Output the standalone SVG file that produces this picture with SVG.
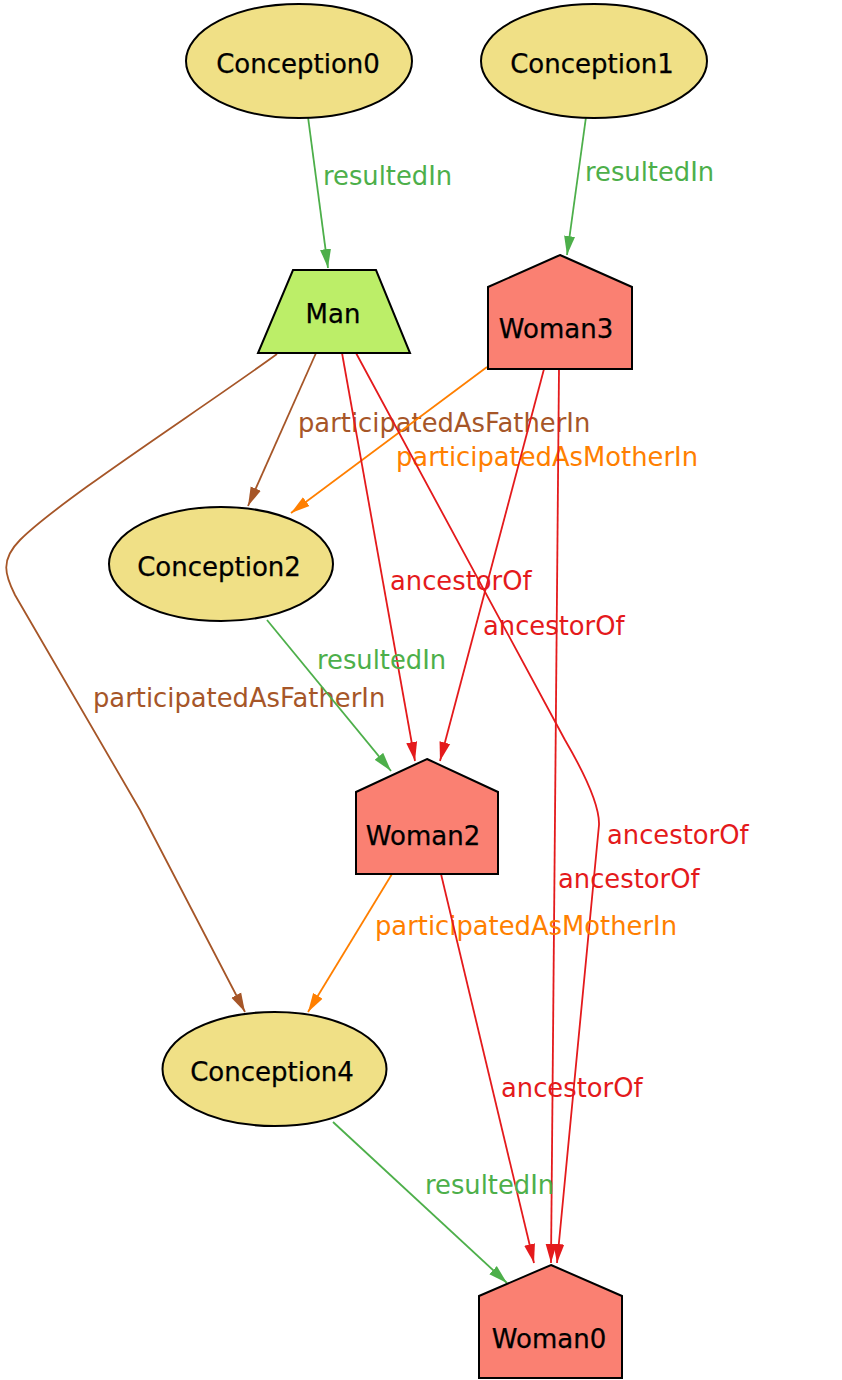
<svg xmlns="http://www.w3.org/2000/svg" width="842" height="1380" viewBox="0 0 842 1380">
<defs>
<style>
.node{stroke:#000;stroke-width:2}
.conc{fill:#F0E086}
.man{fill:#BCEE68}
.woman{fill:#FA8072}
.nt{font-family:"DejaVu Sans",sans-serif;font-size:26px;fill:#000;text-anchor:middle;stroke:#000;stroke-width:0.25}
.lt{font-family:"DejaVu Sans",sans-serif;font-size:25.8px}
.e{fill:none;stroke-width:1.8}
.g{stroke:#4DAF4A}.gt{fill:#4DAF4A}
.r{stroke:#E41A1C}.rt{fill:#E41A1C}
.o{stroke:#FF7F00}.ot{fill:#FF7F00}
.b{stroke:#A65628}.bt{fill:#A65628}
</style>
<marker id="ag" markerUnits="userSpaceOnUse" markerWidth="19" markerHeight="12" refX="19" refY="6" orient="auto"><path d="M0,0.5 L19,6 L0,11.5 z" fill="#4DAF4A"/></marker>
<marker id="ar" markerUnits="userSpaceOnUse" markerWidth="19" markerHeight="12" refX="19" refY="6" orient="auto"><path d="M0,0.5 L19,6 L0,11.5 z" fill="#E41A1C"/></marker>
<marker id="ao" markerUnits="userSpaceOnUse" markerWidth="19" markerHeight="12" refX="19" refY="6" orient="auto"><path d="M0,0.5 L19,6 L0,11.5 z" fill="#FF7F00"/></marker>
<marker id="ab" markerUnits="userSpaceOnUse" markerWidth="19" markerHeight="12" refX="19" refY="6" orient="auto"><path d="M0,0.5 L19,6 L0,11.5 z" fill="#A65628"/></marker>
</defs>
<rect width="842" height="1380" fill="#fff"/>
<g id="connectors">
<path class="e g" d="M308,117 L328,268" marker-end="url(#ag)"/>
<text class="lt gt" x="323" y="185">resultedIn</text>
<path class="e g" d="M586,117 L567,255" marker-end="url(#ag)"/>
<text class="lt gt" x="585" y="181">resultedIn</text>
<path class="e b" d="M316,353 L248,506" marker-end="url(#ab)"/>
<text class="lt bt" x="298" y="432">participatedAsFatherIn</text>
<path class="e o" d="M487,367 L291,513" marker-end="url(#ao)"/>
<text class="lt ot" x="396" y="466">participatedAsMotherIn</text>
<path class="e b" d="M277,354 C200,410 60,500 20,540 C0,560 5,575 15,595 L140,810 L245,1012" marker-end="url(#ab)"/>
<text class="lt bt" x="93" y="707">participatedAsFatherIn</text>
<path class="e r" d="M342,353 L415,761" marker-end="url(#ar)"/>
<text class="lt rt" x="390" y="590">ancestorOf</text>
<path class="e r" d="M544,369 L440,761" marker-end="url(#ar)"/>
<text class="lt rt" x="483" y="635">ancestorOf</text>
<path class="e g" d="M267,620 L391,771" marker-end="url(#ag)"/>
<text class="lt gt" x="317" y="669">resultedIn</text>
<path class="e r" d="M356,353 L565,740 Q600,800 599,825 L557,1263" marker-end="url(#ar)"/>
<text class="lt rt" x="607" y="844">ancestorOf</text>
<path class="e r" d="M559,369 L551,1263" marker-end="url(#ar)"/>
<text class="lt rt" x="558" y="888">ancestorOf</text>
<path class="e o" d="M392,874 L308,1012" marker-end="url(#ao)"/>
<text class="lt ot" x="375" y="935">participatedAsMotherIn</text>
<path class="e r" d="M441,874 L534,1263" marker-end="url(#ar)"/>
<text class="lt rt" x="501" y="1097">ancestorOf</text>
<path class="e g" d="M333,1122 L507,1283" marker-end="url(#ag)"/>
<text class="lt gt" x="425" y="1194">resultedIn</text>
</g>
<g id="Conception0"><ellipse class="node conc" cx="299" cy="61" rx="113" ry="57"/><text class="nt" x="298" y="73">Conception0</text></g>
<g id="Conception1"><ellipse class="node conc" cx="594" cy="61" rx="113" ry="57"/><text class="nt" x="592" y="73">Conception1</text></g>
<g id="Man"><polygon class="node man" points="293,270 376,270 410,353 258,353"/><text class="nt" x="333" y="323">Man</text></g>
<g id="Woman3"><polygon class="node woman" points="560,255 632,287 632,369 488,369 488,287"/><text class="nt" x="556" y="338">Woman3</text></g>
<g id="Conception2"><ellipse class="node conc" cx="221" cy="564" rx="112" ry="57"/><text class="nt" x="219" y="576">Conception2</text></g>
<g id="Woman2"><polygon class="node woman" points="427,759 498,792 498,874 356,874 356,792"/><text class="nt" x="423" y="845">Woman2</text></g>
<g id="Conception4"><ellipse class="node conc" cx="274.5" cy="1069" rx="112" ry="57"/><text class="nt" x="272" y="1081">Conception4</text></g>
<g id="Woman0"><polygon class="node woman" points="551,1265 622,1296 622,1378 479,1378 479,1296"/><text class="nt" x="549" y="1348">Woman0</text></g>
</svg>
